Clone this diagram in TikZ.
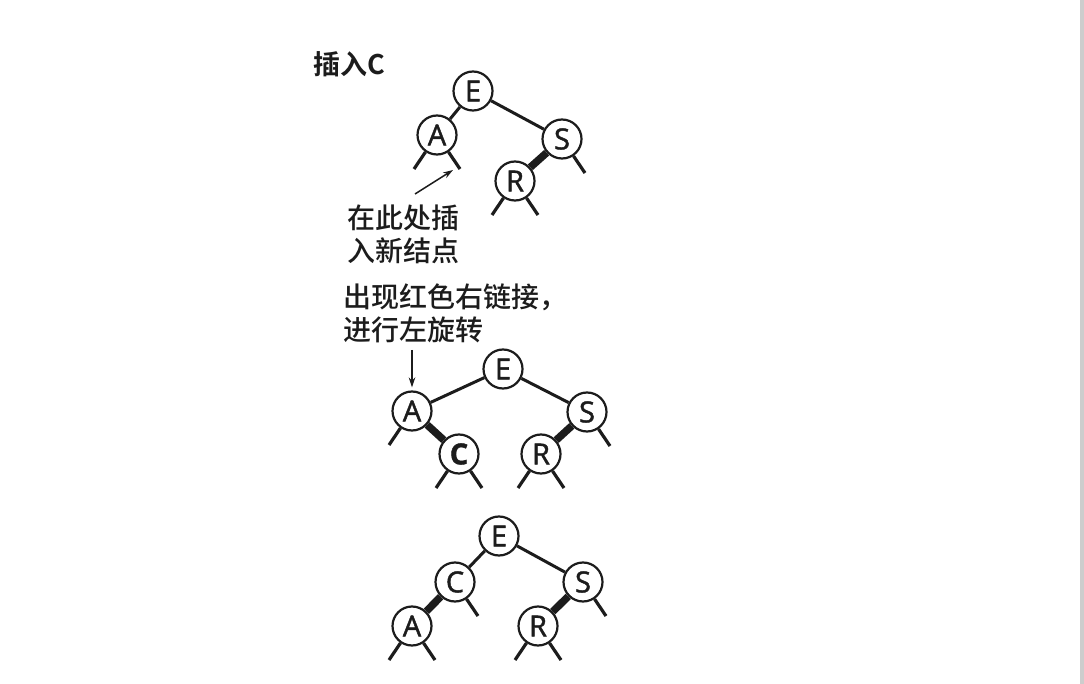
\documentclass[tikz,border=0pt]{standalone}
\usepackage{fontspec}
\usepackage{tikz}
\usetikzlibrary{arrows.meta, calc}
\setmainfont{Open Sans}
\newfontfamily\keyfont[FakeBold=1.5]{Open Sans}
\newfontfamily\cjk{Noto Sans CJK SC Medium}
\newfontfamily\cjkbf{Noto Sans CJK SC Bold}
\definecolor{myink}{RGB}{28,28,28}
\definecolor{myedge}{RGB}{205,205,205}
\tikzset{
  rbnode/.style={circle, draw=myink, fill=white, line width=2.2pt,
    minimum size=39pt, inner sep=0pt, text=myink,
    font=\keyfont\fontsize{29}{29}\selectfont},
  newnode/.style={rbnode, font=\keyfont\bfseries\fontsize{29}{29}\selectfont},
  blacklink/.style={line width=3pt, color=myink},
  redlink/.style={line width=7.5pt, color=myink},
  nulllink/.style={line width=3.2pt, color=myink},
  pointer/.style={-{Stealth[length=10pt, width=6.5pt]}, line width=1.5pt, color=myink},
  note/.style={anchor=west, align=left, inner sep=0pt, text=myink,
    font=\cjk\fontsize{28}{33}\selectfont}
}

\begin{document}
\begin{tikzpicture}[x=1pt, y=-1pt]
  \useasboundingbox (0,0) rectangle (1084,684);
  \fill[myedge] (1080,0) rectangle (1084,684);

  % insert C
  \node[note, font=\cjkbf\fontsize{27}{33}\selectfont] (title) at (313,64) {插入C};
  \node[rbnode] (E1) at (473,91) {E};
  \node[rbnode] (A1) at (437,135) {A};
  \node[rbnode] (S1) at (562,139) {S};
  \node[rbnode] (R1) at (515,181) {R};
  \draw[blacklink] (E1) -- (A1);
  \draw[blacklink] (E1) -- (S1);
  \draw[redlink] (S1) -- (R1);
  \node[note] (where) at (347,234) {在此处插\\入新结点};
  \coordinate (where-tail) at (415,194);
  \coordinate (where-head) at (453,170);
  \draw[pointer] (where-tail) -- (where-head);

  % rotate left
  \node[note] (why) at (343,313) {出现红色右链接，\\进行左旋转};
  \node[rbnode] (E2) at (503,369) {E};
  \node[rbnode] (A2) at (412,411) {A};
  \node[rbnode] (S2) at (587,412) {S};
  \node[newnode] (C2) at (459,454) {C};
  \node[rbnode] (R2) at (541,454) {R};
  \draw[blacklink] (E2) -- (A2);
  \draw[blacklink] (E2) -- (S2);
  \draw[redlink] (A2) -- (C2);
  \draw[redlink] (S2) -- (R2);
  \coordinate (why-tail) at (412,350);
  \draw[pointer] (why-tail) -- ([yshift=3pt]A2.north);

  % result
  \node[rbnode] (E3) at (499,536) {E};
  \node[rbnode] (C3) at (455,582) {C};
  \node[rbnode] (S3) at (583,582) {S};
  \node[rbnode] (A3) at (412,626) {A};
  \node[rbnode] (R3) at (538,626) {R};
  \draw[blacklink] (E3) -- (C3);
  \draw[blacklink] (E3) -- (S3);
  \draw[redlink] (C3) -- (A3);
  \draw[redlink] (S3) -- (R3);

  % null links
  \foreach \n in {A1,R1,A2,C2,R2,A3,R3} {
    \coordinate (\n-l) at ($(\n)+(-23,34)$);
    \draw[nulllink] (\n) -- (\n-l);
  }
  \foreach \n in {A1,S1,R1,C2,S2,R2,C3,S3,A3,R3} {
    \coordinate (\n-r) at ($(\n)+(23,34)$);
    \draw[nulllink] (\n) -- (\n-r);
  }
\end{tikzpicture}
\end{document}
